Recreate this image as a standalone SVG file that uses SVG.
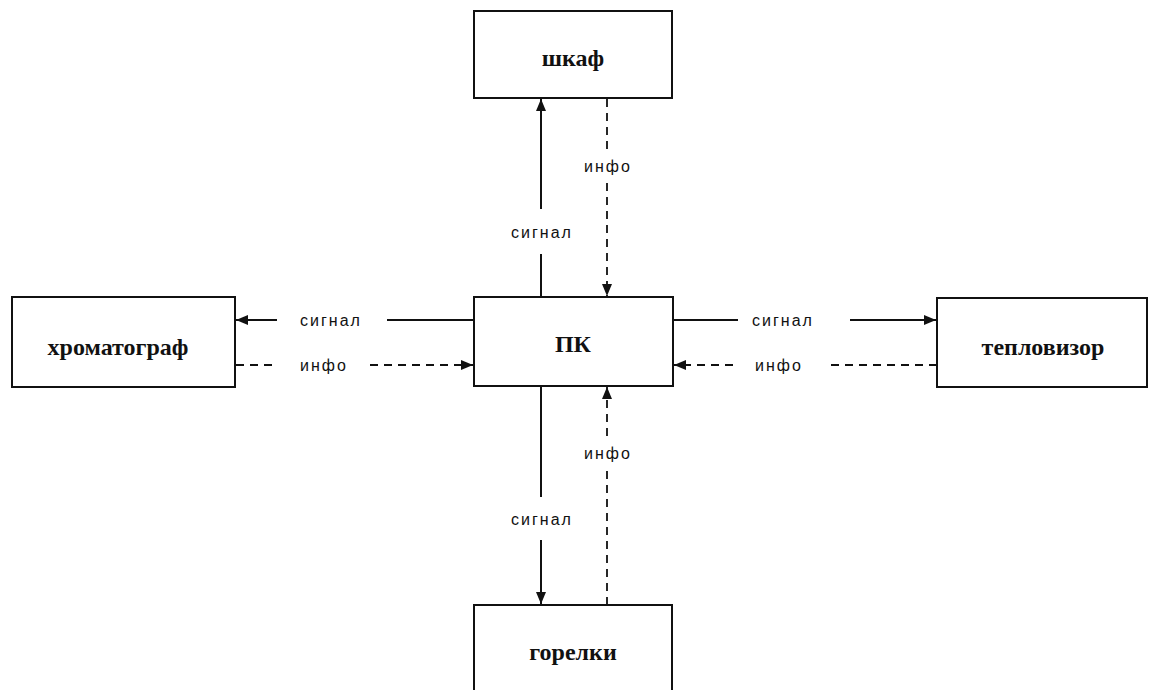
<svg xmlns="http://www.w3.org/2000/svg" width="1150" height="690" viewBox="0 0 1150 690">
<style>
.box{fill:#fff;stroke:#111;stroke-width:2}
.name{font-family:"Liberation Serif",serif;font-weight:bold;font-size:24px;fill:#111;text-anchor:middle;dominant-baseline:central}
.lbl{font-family:"Liberation Sans",sans-serif;font-size:16px;letter-spacing:2px;fill:#111;text-anchor:middle;dominant-baseline:central}
.s{stroke:#111;stroke-width:2;fill:none}
.d{stroke:#111;stroke-width:1.8;fill:none;stroke-dasharray:8 6}
</style>
<defs>
<marker id="ah" markerWidth="12" markerHeight="12" refX="12" refY="6" orient="auto" markerUnits="userSpaceOnUse">
<path d="M0,1 L12,6 L0,11 Z" fill="#111"/>
</marker>
</defs>
<rect width="1150" height="690" fill="#fff"/>
<g id="connectors">
<line class="s" x1="541" y1="297" x2="541" y2="254"/>
<line class="s" x1="541" y1="209" x2="541" y2="99" marker-end="url(#ah)"/>
<text class="lbl" x="542" y="232">сигнал</text>
<line class="d" x1="607" y1="99" x2="607" y2="150"/>
<line class="d" x1="607" y1="183" x2="607" y2="296" marker-end="url(#ah)"/>
<text class="lbl" x="608" y="166">инфо</text>
<line class="s" x1="474" y1="320" x2="387" y2="320"/>
<line class="s" x1="277" y1="320" x2="236" y2="320" marker-end="url(#ah)"/>
<text class="lbl" x="331" y="320">сигнал</text>
<line class="d" x1="236" y1="365" x2="278" y2="365"/>
<line class="d" x1="370" y1="365" x2="473" y2="365" marker-end="url(#ah)"/>
<text class="lbl" x="324" y="365">инфо</text>
<line class="s" x1="673" y1="320" x2="738" y2="320"/>
<line class="s" x1="850" y1="320" x2="936" y2="320" marker-end="url(#ah)"/>
<text class="lbl" x="783" y="320">сигнал</text>
<line class="d" x1="937" y1="365" x2="827" y2="365"/>
<line class="d" x1="733" y1="365" x2="674" y2="365" marker-end="url(#ah)"/>
<text class="lbl" x="779" y="365">инфо</text>
<line class="s" x1="541" y1="386" x2="541" y2="497"/>
<line class="s" x1="541" y1="540" x2="541" y2="604" marker-end="url(#ah)"/>
<text class="lbl" x="542" y="519">сигнал</text>
<line class="d" x1="607" y1="605" x2="607" y2="470"/>
<line class="d" x1="607" y1="436" x2="607" y2="387" marker-end="url(#ah)"/>
<text class="lbl" x="608" y="453">инфо</text>
</g>
<g id="shkaf">
<rect class="box" x="474" y="11" width="198" height="87"/>
<text class="name" x="573" y="58">шкаф</text>
</g>
<g id="pk">
<rect class="box" x="474" y="297" width="199" height="89"/>
<text class="name" x="573" y="344">ПК</text>
</g>
<g id="chromatograph">
<rect class="box" x="12" y="297" width="223" height="90"/>
<text class="name" x="118" y="347">хроматограф</text>
</g>
<g id="teplovizor">
<rect class="box" x="937" y="298" width="210" height="89"/>
<text class="name" x="1043" y="347">тепловизор</text>
</g>
<g id="gorelki">
<rect class="box" x="474" y="605" width="198" height="95"/>
<text class="name" x="573" y="652">горелки</text>
</g>
</svg>
